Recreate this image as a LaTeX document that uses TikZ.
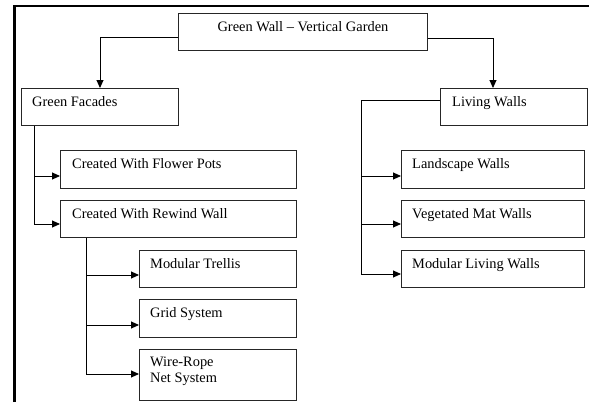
\documentclass[tikz,border=0pt]{standalone}
\usepackage{fontspec}
\setmainfont{Liberation Serif}
\usetikzlibrary{arrows.meta,calc}
\begin{document}
\begin{tikzpicture}[x=1pt,y=-1pt,
  box/.style={draw=black!85,line width=0.9pt,rectangle,inner sep=0pt,anchor=north west},
  lbl/.style={anchor=base west,inner sep=0pt,font=\fontsize{14.4}{15.5}\selectfont},
  arr/.style={line width=0.9pt,-{Triangle[length=8pt,width=7pt]}},
  ln/.style={line width=0.9pt}]
\useasboundingbox (0,0) rectangle (589,402);
\draw[line width=2.5pt] (14.5,402) -- (14.5,6) -- (589,6);
% boxes
\node[box,minimum width=249pt,minimum height=37pt] (top) at (178,13) {};
\node[box,minimum width=157pt,minimum height=37pt] (gf) at (21,88) {};
\node[box,minimum width=147pt,minimum height=37pt] (lw) at (440,88) {};
\node[box,minimum width=236pt,minimum height=38pt] (fp) at (60,150) {};
\node[box,minimum width=236pt,minimum height=37pt] (rw) at (60,200) {};
\node[box,minimum width=157pt,minimum height=37pt] (mt) at (139,250) {};
\node[box,minimum width=157pt,minimum height=38pt] (gs) at (139,299) {};
\node[box,minimum width=157pt,minimum height=51pt] (wr) at (139,349) {};
\node[box,minimum width=183pt,minimum height=38pt] (ls) at (401,150) {};
\node[box,minimum width=183pt,minimum height=37pt] (vm) at (401,200) {};
\node[box,minimum width=183pt,minimum height=37pt] (ml) at (401,250) {};
% labels
\node[lbl,anchor=base] (toptx) at ($(top.north)+(0,18)$) {Green Wall -- Vertical Garden};
\node[lbl] (gftx) at ($(gf.north west)+(11,18)$) {Green Facades};
\node[lbl] (lwtx) at ($(lw.north west)+(12,18)$) {Living Walls};
\node[lbl] (fptx) at ($(fp.north west)+(12,18)$) {Created With Flower Pots};
\node[lbl] (rwtx) at ($(rw.north west)+(12,18)$) {Created With Rewind Wall};
\node[lbl] (mttx) at ($(mt.north west)+(11,18)$) {Modular Trellis};
\node[lbl] (gstx) at ($(gs.north west)+(11,18)$) {Grid System};
\node[lbl,align=left,anchor=north west] (wrtx) at ($(wr.north west)+(11,8)$) {Wire-Rope\\Net System};
\node[lbl] (lstx) at ($(ls.north west)+(11,18)$) {Landscape Walls};
\node[lbl] (vmtx) at ($(vm.north west)+(11,18)$) {Vegetated Mat Walls};
\node[lbl] (mltx) at ($(ml.north west)+(11,18)$) {Modular Living Walls};
% connectors
\draw[arr] ($(top.north west)+(0,24)$) -| ($(gf.north west)+(79,0)$);
\draw[arr] ($(top.north east)+(0,25)$) -| ($(lw.north west)+(53,0)$);
\draw[arr] ($(gf.south west)+(13,0)$) |- ($(fp.north west)+(0,26)$);
\draw[arr] ($(gf.south west)+(13,0)$) |- ($(rw.north west)+(0,24)$);
\draw[arr] ($(rw.south west)+(26,0)$) |- ($(mt.north west)+(0,25)$);
\draw[arr] ($(rw.south west)+(26,0)$) |- ($(gs.north west)+(0,26)$);
\draw[arr] ($(rw.south west)+(26,0)$) |- ($(wr.north west)+(0,25)$);
\coordinate (lwt) at ($(lw.north west)+(-79,12)$);
\draw[ln] ($(lw.north west)+(0,12)$) -- (lwt);
\draw[arr] (lwt) |- ($(ls.north west)+(0,26)$);
\draw[arr] (lwt) |- ($(vm.north west)+(0,24)$);
\draw[arr] (lwt) |- ($(ml.north west)+(0,24)$);
\end{tikzpicture}
\end{document}
